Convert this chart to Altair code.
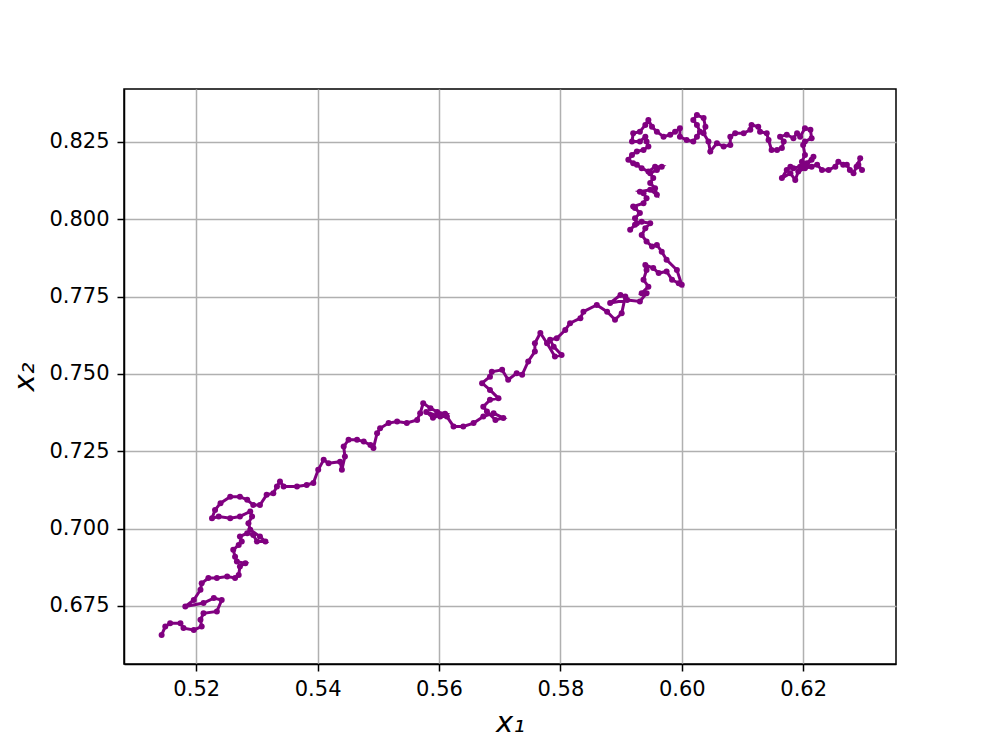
import altair as alt
import pandas as pd

x1 = [0.5143, 0.5149, 0.5157, 0.5174, 0.5179, 0.5196, 0.5209, 0.5207, 0.5212, 0.5234,
      0.5242, 0.5229, 0.5212, 0.5182, 0.5196, 0.5207, 0.5209, 0.5220, 0.5234, 0.5251,
      0.5264, 0.5270, 0.5272, 0.5281, 0.5267, 0.5264, 0.5261, 0.5270, 0.5275, 0.5272,
      0.5284, 0.5294, 0.5300, 0.5314, 0.5305, 0.5289, 0.5286, 0.5292, 0.5289, 0.5272,
      0.5256, 0.5237, 0.5226, 0.5231, 0.5240, 0.5256, 0.5272, 0.5284, 0.5294, 0.5305,
      0.5316, 0.5327, 0.5333, 0.5338, 0.5344, 0.5366, 0.5382, 0.5393, 0.5401, 0.5410,
      0.5418, 0.5437, 0.5440, 0.5445, 0.5443, 0.5451, 0.5465, 0.5476, 0.5487, 0.5492,
      0.5498, 0.5503, 0.5517, 0.5531, 0.5547, 0.5564, 0.5569, 0.5574, 0.5586, 0.5597,
      0.5610, 0.5590, 0.5579, 0.5602, 0.5613, 0.5624, 0.5640, 0.5657, 0.5673, 0.5690,
      0.5706, 0.5693, 0.5679, 0.5673, 0.5684, 0.5698, 0.5684, 0.5671, 0.5684, 0.5687,
      0.5704, 0.5714, 0.5728, 0.5737, 0.5747, 0.5758, 0.5758, 0.5767, 0.5778, 0.5791,
      0.5802, 0.5789, 0.5783, 0.5794, 0.5808, 0.5816, 0.5833, 0.5838, 0.5860, 0.5877,
      0.5890, 0.5901, 0.5907, 0.5899, 0.5882, 0.5910, 0.5931, 0.5942, 0.5934, 0.5945,
      0.5937, 0.5942, 0.5940, 0.5953, 0.5962, 0.5975, 0.5984, 0.5995, 0.6000, 0.5992,
      0.5975, 0.5967, 0.5959, 0.5951, 0.5942, 0.5934, 0.5940, 0.5948, 0.5934, 0.5923,
      0.5915, 0.5926, 0.5923, 0.5931, 0.5923, 0.5920, 0.5937, 0.5942, 0.5937, 0.5931,
      0.5948, 0.5959, 0.5956, 0.5948, 0.5953, 0.5948, 0.5959, 0.5967, 0.5956, 0.5945,
      0.5934, 0.5926, 0.5920, 0.5912, 0.5918, 0.5926, 0.5937, 0.5945, 0.5942, 0.5940,
      0.5931, 0.5918, 0.5920, 0.5931, 0.5940, 0.5945, 0.5951, 0.5959, 0.5970, 0.5981,
      0.5989, 0.5997, 0.5997, 0.6008, 0.6019, 0.6025, 0.6030, 0.6025, 0.6019, 0.6025,
      0.6036, 0.6039, 0.6036, 0.6044, 0.6047, 0.6058, 0.6069, 0.6080, 0.6080, 0.6088,
      0.6102, 0.6113, 0.6115, 0.6126, 0.6129, 0.6140, 0.6143, 0.6148, 0.6157, 0.6165,
      0.6168, 0.6162, 0.6173, 0.6184, 0.6190, 0.6195, 0.6203, 0.6212, 0.6214, 0.6203,
      0.6200, 0.6203, 0.6198, 0.6206, 0.6214, 0.6217, 0.6206, 0.6195, 0.6184, 0.6179,
      0.6173, 0.6165, 0.6179, 0.6187, 0.6192, 0.6203, 0.6214, 0.6223, 0.6231, 0.6242,
      0.6253, 0.6258, 0.6266, 0.6272, 0.6277, 0.6283, 0.6288, 0.6294, 0.6291, 0.6297]

x2 = [0.6656, 0.6683, 0.6694, 0.6694, 0.6678, 0.6672, 0.6683, 0.6705, 0.6726, 0.6732,
      0.6769, 0.6775, 0.6759, 0.6748, 0.6769, 0.6802, 0.6823, 0.6840, 0.6840, 0.6845,
      0.6840, 0.6850, 0.6877, 0.6888, 0.6893, 0.6909, 0.6931, 0.6947, 0.6958, 0.6974,
      0.6985, 0.6979, 0.6958, 0.6958, 0.6974, 0.6996, 0.7017, 0.7039, 0.7055, 0.7039,
      0.7033, 0.7039, 0.7033, 0.7060, 0.7082, 0.7103, 0.7103, 0.7093, 0.7076, 0.7076,
      0.7109, 0.7114, 0.7136, 0.7152, 0.7136, 0.7136, 0.7141, 0.7147, 0.7190, 0.7222,
      0.7211, 0.7216, 0.7190, 0.7233, 0.7265, 0.7287, 0.7287, 0.7281, 0.7270, 0.7260,
      0.7308, 0.7324, 0.7341, 0.7346, 0.7341, 0.7351, 0.7373, 0.7405, 0.7389, 0.7377,
      0.7371, 0.7358, 0.7377, 0.7362, 0.7362, 0.7330, 0.7330, 0.7341, 0.7362, 0.7373,
      0.7357, 0.7351, 0.7378, 0.7394, 0.7416, 0.7421, 0.7448, 0.7470, 0.7491, 0.7507,
      0.7513, 0.7481, 0.7502, 0.7497, 0.7540, 0.7572, 0.7599, 0.7632, 0.7599, 0.7556,
      0.7561, 0.7588, 0.7610, 0.7615, 0.7642, 0.7664, 0.7680, 0.7701, 0.7723, 0.7701,
      0.7675, 0.7696, 0.7750, 0.7755, 0.7729, 0.7739, 0.7734, 0.7761, 0.7761, 0.7782,
      0.7804, 0.7836, 0.7852, 0.7842, 0.7826, 0.7831, 0.7804, 0.7793, 0.7788, 0.7836,
      0.7869, 0.7895, 0.7917, 0.7912, 0.7928, 0.7949, 0.7971, 0.7987, 0.7992, 0.7982,
      0.7966, 0.7987, 0.8003, 0.8020, 0.8036, 0.8041, 0.8052, 0.8068, 0.8084, 0.8089,
      0.8095, 0.8079, 0.8100, 0.8117, 0.8133, 0.8149, 0.8159, 0.8170, 0.8170, 0.8154,
      0.8165, 0.8176, 0.8181, 0.8192, 0.8208, 0.8219, 0.8224, 0.8235, 0.8251, 0.8267,
      0.8251, 0.8251, 0.8278, 0.8283, 0.8305, 0.8321, 0.8299, 0.8283, 0.8267, 0.8273,
      0.8283, 0.8294, 0.8267, 0.8256, 0.8251, 0.8267, 0.8283, 0.8305, 0.8321, 0.8337,
      0.8327, 0.8299, 0.8278, 0.8251, 0.8219, 0.8246, 0.8235, 0.8240, 0.8267, 0.8278,
      0.8278, 0.8289, 0.8305, 0.8299, 0.8283, 0.8278, 0.8256, 0.8224, 0.8224, 0.8230,
      0.8251, 0.8267, 0.8273, 0.8262, 0.8278, 0.8267, 0.8294, 0.8289, 0.8262, 0.8251,
      0.8240, 0.8208, 0.8186, 0.8176, 0.8192, 0.8202, 0.8181, 0.8170, 0.8165, 0.8170,
      0.8159, 0.8133, 0.8149, 0.8127, 0.8154, 0.8165, 0.8170, 0.8176, 0.8159, 0.8159,
      0.8170, 0.8186, 0.8176, 0.8176, 0.8159, 0.8149, 0.8170, 0.8197, 0.8176, 0.8159]

x_ticks = [0.52, 0.54, 0.56, 0.58, 0.60, 0.62]
y_ticks = [0.675, 0.700, 0.725, 0.750, 0.775, 0.800, 0.825]
x_domain = [0.5081, 0.6353]
y_domain = [0.6562, 0.8421]

df = pd.DataFrame({"step": list(range(len(x1))), "x1": x1, "x2": x2})

chart = (
    alt.Chart(df)
    .mark_line(
        color="purple",
        strokeWidth=3,
        point=alt.OverlayMarkDef(color="purple", size=36, filled=True, opacity=1),
    )
    .encode(
        x=alt.X(
            "x1:Q",
            scale=alt.Scale(domain=x_domain, nice=False, zero=False),
            axis=alt.Axis(values=x_ticks, format=".2f", title="x₁",
                          titlePadding=9, labelPadding=7),
        ),
        y=alt.Y(
            "x2:Q",
            scale=alt.Scale(domain=y_domain, nice=False, zero=False),
            axis=alt.Axis(values=y_ticks, format=".3f", title="x₂",
                          titlePadding=9, labelPadding=8),
        ),
        order="step:Q",
    )
    .properties(
        width=772,
        height=575,
        autosize=alt.AutoSizeParams(type="none"),
        padding={"left": 116, "top": 81, "right": 92, "bottom": 75},
    )
    .configure_view(stroke="black", strokeWidth=1.5)
    .configure_axis(
        labelFont="DejaVu Sans",
        labelFontSize=21,
        labelColor="black",
        labelOverlap=False,
        labelFlush=False,
        titleFont="DejaVu Sans",
        titleFontSize=29,
        titleFontStyle="italic",
        titleFontWeight="normal",
        titleColor="black",
        tickColor="black",
        tickSize=7,
        tickWidth=1.5,
        domainColor="black",
        domainWidth=1.5,
        gridColor="#b0b0b0",
        gridWidth=1.5,
    )
)

chart.save("out.html", embed_options={"renderer": "svg", "actions": False})
